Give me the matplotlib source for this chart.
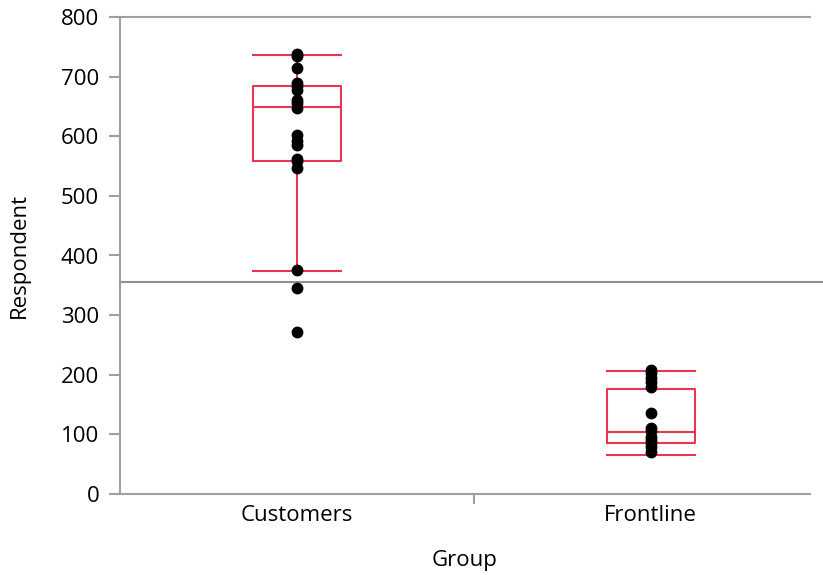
import numpy as np
import matplotlib.pyplot as plt

plt.rcParams['font.family'] = ['Open Sans', 'DejaVu Sans']

groups = ['Customers', 'Frontline']
customers = [738, 735, 715, 690, 684, 678, 660, 655, 648, 602, 592, 585, 562, 558, 546, 375, 345, 272]
frontline = [208, 203, 195, 188, 180, 136, 110, 105, 96, 90, 85, 78, 70]
# box stats
q1 = [559, 85]
med = [649, 104]
q3 = [684, 176]
whislo = [374, 66]
whishi = [737, 206]
mean_line = 356

red = '#e8364f'
gray = '#a0a0a0'

fig = plt.figure(figsize=(8.23, 5.75), dpi=100)
ax = fig.add_axes([120/823, 81/575, 690/823, 477/575])

stats = [dict(med=med[i], q1=q1[i], q3=q3[i], whislo=whislo[i], whishi=whishi[i], fliers=[])
         for i in range(len(groups))]
ax.bxp(stats, positions=[0, 1], widths=0.25, showfliers=False,
       boxprops=dict(color=red, linewidth=1.5),
       medianprops=dict(color=red, linewidth=1.5),
       whiskerprops=dict(color=red, linewidth=1.5),
       capprops=dict(color=red, linewidth=1.5),
       capwidths=0.25, zorder=2)

for i, vals in enumerate([customers, frontline]):
    ax.plot([i] * len(vals), vals, 'o', color='black', markersize=7.5, zorder=3)

ax.axhline(mean_line, color='#909090', linewidth=1.5, zorder=1, clip_on=False, xmax=1.02)

ax.set_xlim(-0.5, 1.45)
ax.set_ylim(0, 800)
ax.set_yticks(range(0, 801, 100))
ax.set_xticks([0, 1])
ax.set_xticklabels(groups)
ax.set_xticks([0.5], minor=True)
ax.tick_params(axis='x', which='major', length=0, labelsize=16, pad=8)
ax.tick_params(axis='x', which='minor', length=7, color=gray, width=1.5)
ax.tick_params(axis='y', length=8, color=gray, width=1.5, labelsize=16, pad=7)

for s in ['left', 'bottom', 'top']:
    ax.spines[s].set_color(gray)
    ax.spines[s].set_linewidth(1.5)
ax.spines['right'].set_visible(False)

ax.set_xlabel('Group', fontsize=16, labelpad=17)
ax.set_ylabel('Respondent', fontsize=16, labelpad=22)

fig.savefig('out.png', dpi=100)
